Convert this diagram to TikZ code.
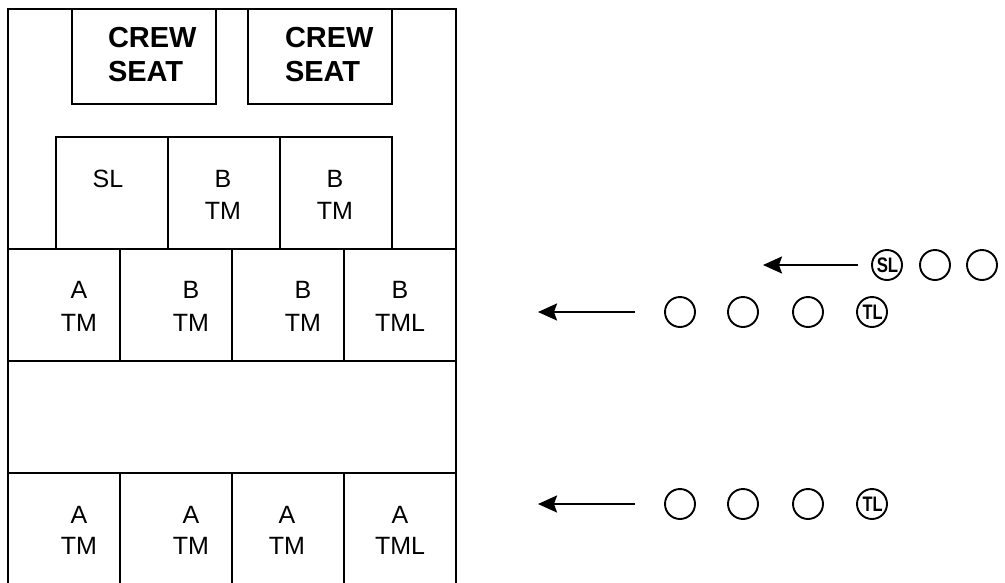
\documentclass[tikz,border=0pt]{standalone}
\usepackage{fontspec}
\setmainfont{Liberation Sans}
\usetikzlibrary{arrows.meta,fit}
\begin{document}
\begin{tikzpicture}[x=1pt,y=-1pt,line width=2pt,
  cell/.style={draw,rectangle,inner sep=0pt,outer sep=0pt},
  lbl/.style={anchor=base,inner sep=0pt,font=\fontsize{25}{30}\selectfont},
  crew/.style={anchor=base west,inner sep=0pt,font=\fontsize{29}{34}\bfseries\selectfont},
  man/.style={draw,circle,minimum size=30pt,inner sep=0pt,line width=1.9pt},
  lead/.style={anchor=base,inner sep=0pt,font=\fontsize{21}{25}\bfseries\selectfont},
  runarrow/.style={-{Stealth[length=19pt,width=17pt,inset=3pt]},line width=2pt}]
\useasboundingbox (0,0) rectangle (1005,582);
% outer frame
\draw (8,600) -- (8,9) -- (456,9) -- (456,600);
% crew seats
\node[cell,fit={(72,9) (216,104)}] (cs1) {};
\node[cell,fit={(248,9) (392,104)}] (cs2) {};
\node[crew] (cs1a) at (107,47) {CREW};
\node[crew] (cs1b) at (107,81) {SEAT};
\node[crew] (cs2a) at (284,47) {CREW};
\node[crew] (cs2b) at (284,81) {SEAT};
% middle row
\node[cell,fit={(56,137) (168,249)}] (m1) {};
\node[cell,fit={(168,137) (280,249)}] (m2) {};
\node[cell,fit={(280,137) (392,249)}] (m3) {};
\node[lbl] (m1a) at (108,187) {SL};
\node[lbl] (m2a) at (223,187) {B};
\node[lbl] (m2b) at (223,219) {TM};
\node[lbl] (m3a) at (335,187) {B};
\node[lbl] (m3b) at (335,219) {TM};
% row 2
\node[cell,fit={(8,249) (120,361)}] (r1) {};
\node[cell,fit={(120,249) (232,361)}] (r2) {};
\node[cell,fit={(232,249) (344,361)}] (r3) {};
\node[cell,fit={(344,249) (456,361)}] (r4) {};
\node[lbl] (r1a) at (79,298) {A};
\node[lbl] (r1b) at (79,331) {TM};
\node[lbl] (r2a) at (191,298) {B};
\node[lbl] (r2b) at (191,331) {TM};
\node[lbl] (r3a) at (303,298) {B};
\node[lbl] (r3b) at (303,331) {TM};
\node[lbl] (r4a) at (400,298) {B};
\node[lbl] (r4b) at (400,331) {TML};
% blank row
\node[cell,fit={(8,361) (456,473)}] (blank) {};
% bottom row
\node[cell,fit={(8,473) (120,600)}] (b1) {};
\node[cell,fit={(120,473) (232,600)}] (b2) {};
\node[cell,fit={(232,473) (344,600)}] (b3) {};
\node[cell,fit={(344,473) (456,600)}] (b4) {};
\node[lbl] (b1a) at (79,523) {A};
\node[lbl] (b1b) at (79,554) {TM};
\node[lbl] (b2a) at (191,523) {A};
\node[lbl] (b2b) at (191,554) {TM};
\node[lbl] (b3a) at (287,523) {A};
\node[lbl] (b3b) at (287,554) {TM};
\node[lbl] (b4a) at (400,523) {A};
\node[lbl] (b4b) at (400,554) {TML};
% right side: first line
\node[man] (sl) at (887,265) {};
\node[lead] (slt) at (887.5,272.5) {\scalebox{0.8}[1]{SL}};
\node[man] (p12) at (935,265) {};
\node[man] (p13) at (982,265) {};
\coordinate (s1) at (858,265);
\coordinate (t1) at (763,265);
\draw[runarrow] (s1) -- (t1);
% second line
\node[man] (p21) at (680,312) {};
\node[man] (p22) at (743,312) {};
\node[man] (p23) at (808,312) {};
\node[man] (tl2) at (872,312) {};
\node[lead] (tl2t) at (872.5,319.5) {\scalebox{0.78}[1]{TL}};
\coordinate (s2) at (635,312);
\coordinate (t2) at (538,312);
\draw[runarrow] (s2) -- (t2);
% third line
\node[man] (p31) at (680,504) {};
\node[man] (p32) at (743,504) {};
\node[man] (p33) at (808,504) {};
\node[man] (tl3) at (872,504) {};
\node[lead] (tl3t) at (872.5,511.5) {\scalebox{0.78}[1]{TL}};
\coordinate (s3) at (635,504);
\coordinate (t3) at (538,504);
\draw[runarrow] (s3) -- (t3);
\end{tikzpicture}
\end{document}
